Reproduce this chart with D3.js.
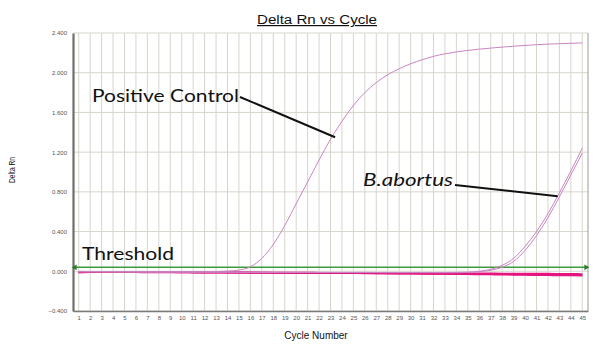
<!DOCTYPE html>
<html><head><meta charset="utf-8">
<script src="https://cdn.jsdelivr.net/npm/d3@7/dist/d3.min.js"></script>
<style>html,body{margin:0;padding:0;background:#fff}svg{display:block}</style>
</head><body>
<svg id="chart" width="600" height="348"></svg>
<script>
const cycles = [1,2,3,4,5,6,7,8,9,10,11,12,13,14,15,16,17,18,19,20,21,22,23,24,25,26,27,28,29,30,31,32,33,34,35,36,37,38,39,40,41,42,43,44,45];
const yTicks = [-0.4, 0, 0.4, 0.8, 1.2, 1.6, 2.0, 2.4];
const threshold = 0.04;

const positiveControl = [0.000,-0.002,-0.003,-0.004,-0.004,-0.005,-0.005,-0.005,-0.005,-0.004,-0.004,-0.003,-0.002,0.002,0.012,0.045,0.13,0.27,0.46,0.68,0.90,1.12,1.33,1.51,1.67,1.80,1.90,1.98,2.04,2.09,2.13,2.165,2.19,2.21,2.225,2.237,2.248,2.258,2.267,2.275,2.282,2.288,2.292,2.296,2.30];
const bAbortus1 = [-0.004,-0.004,-0.005,-0.005,-0.006,-0.006,-0.006,-0.007,-0.007,-0.007,-0.008,-0.008,-0.008,-0.008,-0.009,-0.009,-0.009,-0.009,-0.010,-0.010,-0.010,-0.010,-0.011,-0.011,-0.011,-0.011,-0.012,-0.012,-0.012,-0.012,-0.012,-0.012,-0.012,-0.011,-0.008,0.000,0.020,0.060,0.130,0.250,0.400,0.580,0.790,1.010,1.240];
const bAbortus2 = [-0.006,-0.006,-0.006,-0.007,-0.007,-0.007,-0.008,-0.008,-0.008,-0.009,-0.009,-0.009,-0.010,-0.010,-0.010,-0.010,-0.011,-0.011,-0.011,-0.012,-0.012,-0.012,-0.012,-0.013,-0.013,-0.013,-0.013,-0.014,-0.014,-0.014,-0.014,-0.014,-0.014,-0.014,-0.012,-0.004,0.010,0.040,0.100,0.210,0.360,0.540,0.750,0.970,1.190];
const negative1 = [-0.010,-0.008,-0.006,-0.006,-0.006,-0.007,-0.008,-0.008,-0.009,-0.009,-0.009,-0.010,-0.010,-0.010,-0.011,-0.011,-0.012,-0.012,-0.012,-0.013,-0.013,-0.014,-0.014,-0.014,-0.015,-0.015,-0.016,-0.016,-0.017,-0.017,-0.018,-0.018,-0.019,-0.019,-0.020,-0.020,-0.021,-0.022,-0.022,-0.023,-0.024,-0.024,-0.025,-0.026,-0.027];
const negative2 = [-0.012,-0.010,-0.009,-0.009,-0.010,-0.010,-0.011,-0.011,-0.012,-0.012,-0.013,-0.013,-0.013,-0.014,-0.014,-0.015,-0.015,-0.016,-0.016,-0.017,-0.017,-0.018,-0.018,-0.019,-0.019,-0.020,-0.021,-0.021,-0.022,-0.022,-0.023,-0.024,-0.024,-0.025,-0.026,-0.027,-0.027,-0.028,-0.029,-0.030,-0.031,-0.032,-0.033,-0.034,-0.035];
const negative3 = [-0.008,-0.007,-0.006,-0.006,-0.007,-0.007,-0.008,-0.009,-0.009,-0.010,-0.010,-0.011,-0.011,-0.012,-0.012,-0.013,-0.013,-0.014,-0.014,-0.015,-0.016,-0.016,-0.017,-0.018,-0.018,-0.019,-0.020,-0.021,-0.022,-0.022,-0.023,-0.024,-0.025,-0.026,-0.027,-0.028,-0.029,-0.030,-0.032,-0.033,-0.034,-0.035,-0.037,-0.038,-0.040];
const negative4 = [-0.011,-0.009,-0.008,-0.008,-0.008,-0.009,-0.009,-0.010,-0.010,-0.011,-0.011,-0.012,-0.012,-0.013,-0.013,-0.014,-0.015,-0.015,-0.016,-0.017,-0.017,-0.018,-0.019,-0.020,-0.020,-0.021,-0.022,-0.023,-0.024,-0.025,-0.026,-0.027,-0.028,-0.029,-0.030,-0.032,-0.033,-0.034,-0.036,-0.037,-0.039,-0.040,-0.042,-0.043,-0.045];

const W = 600, H = 348;
const m = {left: 73, right: 12, top: 33, bottom: 37};
const svg = d3.select("#chart");
const x = d3.scaleLinear().domain([0.5, 45.5]).range([m.left, W - m.right]);
const y = d3.scaleLinear().domain([-0.4, 2.4]).range([H - m.bottom, m.top]);

// grid
const grid = svg.append("g");
grid.selectAll("line.v").data(cycles).join("line")
  .attr("x1", d => x(d)).attr("x2", d => x(d))
  .attr("y1", y(2.4)).attr("y2", y(-0.4))
  .attr("stroke", "#d6d5cc").attr("stroke-width", 1);
grid.selectAll("line.h").data(yTicks).join("line")
  .attr("x1", x(0.5)).attr("x2", x(45.5))
  .attr("y1", d => y(d)).attr("y2", d => y(d))
  .attr("stroke", "#d6d5cc").attr("stroke-width", 1);

// right border
svg.append("line").attr("x1", x(45.5)).attr("x2", x(45.5)).attr("y1", y(2.4)).attr("y2", y(-0.4))
  .attr("stroke", "#9a9a9a").attr("stroke-width", 1);

// axes
const yAxis = d3.axisLeft(y).tickValues(yTicks).tickFormat(d3.format(".3f")).tickSize(0).tickPadding(6);
const gy = svg.append("g").attr("transform", `translate(${m.left},0)`).call(yAxis);
gy.select(".domain").attr("stroke", "#6e6e6e").attr("stroke-width", 2.2);
gy.selectAll("text").attr("font-family", "Arial, Liberation Sans, sans-serif").attr("font-size", 6).attr("fill", "#555");

const xAxis = d3.axisBottom(x).tickValues(cycles).tickFormat(d3.format("d")).tickSize(0).tickPadding(5);
const gx = svg.append("g").attr("transform", `translate(0,${y(-0.4)})`).call(xAxis);
gx.select(".domain").attr("stroke", "#7a7a7a").attr("stroke-width", 1.6);
gx.selectAll("text").attr("font-family", "Arial, Liberation Sans, sans-serif").attr("font-size", 6).attr("fill", "#555");

// lines
const line = d3.line().x((d, i) => x(cycles[i])).y(d => y(d)).curve(d3.curveMonotoneX);
const negs = [negative1, negative2, negative3, negative4];
svg.append("g").selectAll("path").data(negs).join("path")
  .attr("d", line).attr("fill", "none").attr("stroke", "#e5157f").attr("stroke-width", 1.6);

// threshold
svg.append("line").attr("x1", x(0.5)).attr("x2", x(45.5))
  .attr("y1", y(threshold)).attr("y2", y(threshold))
  .attr("stroke", "#3d9a3d").attr("stroke-width", 1.4);
svg.append("path").attr("d", d3.symbol(d3.symbolTriangle, 14)())
  .attr("transform", `translate(${x(0.5) + 2},${y(threshold)}) rotate(-90)`).attr("fill", "#2c7a2c");
svg.append("path").attr("d", d3.symbol(d3.symbolTriangle, 14)())
  .attr("transform", `translate(${x(45.5) - 2},${y(threshold)}) rotate(90)`).attr("fill", "#2c7a2c");

const pos = [positiveControl, bAbortus1, bAbortus2];
svg.append("g").selectAll("path").data(pos).join("path")
  .attr("d", line).attr("fill", "none").attr("stroke", "#c886c2").attr("stroke-width", 1);

// annotations
const ann = svg.append("g").attr("font-family", "Lato, 'Open Sans', sans-serif").attr("fill", "#111");
ann.append("text").attr("x", 92).attr("y", 102).attr("font-size", 17.5)
  .attr("textLength", 147).attr("lengthAdjust", "spacingAndGlyphs").text("Positive Control");
ann.append("line").attr("x1", 240).attr("y1", 97).attr("x2", x(23.4)).attr("y2", y(1.35))
  .attr("stroke", "#111").attr("stroke-width", 2);
ann.append("text").attr("x", 363).attr("y", 186).attr("font-size", 17).attr("font-style", "italic")
  .attr("textLength", 90).attr("lengthAdjust", "spacingAndGlyphs").text("B.abortus");
ann.append("line").attr("x1", 455).attr("y1", 185).attr("x2", x(42.85)).attr("y2", y(0.755))
  .attr("stroke", "#111").attr("stroke-width", 2);
ann.append("text").attr("x", 82).attr("y", 260).attr("font-size", 18)
  .attr("textLength", 92).attr("lengthAdjust", "spacingAndGlyphs").text("Threshold");

// titles
svg.append("text").attr("x", 317).attr("y", 24).attr("text-anchor", "middle")
  .attr("font-family", "Arial, Liberation Sans, sans-serif").attr("font-size", 12)
  .attr("textLength", 120).attr("lengthAdjust", "spacingAndGlyphs")
  .attr("text-decoration", "underline").attr("fill", "#111").text("Delta Rn vs Cycle");
svg.append("text").attr("x", 316).attr("y", 339).attr("text-anchor", "middle")
  .attr("font-family", "Arial, Liberation Sans, sans-serif").attr("font-size", 10)
  .attr("fill", "#111").text("Cycle Number");
svg.append("text").attr("transform", "translate(15,170) rotate(-90)").attr("text-anchor", "middle")
  .attr("font-family", "Arial, Liberation Sans, sans-serif").attr("font-size", 8.5)
  .attr("textLength", 26).attr("lengthAdjust", "spacingAndGlyphs")
  .attr("fill", "#111").text("Delta Rn");
</script>
</body></html>
